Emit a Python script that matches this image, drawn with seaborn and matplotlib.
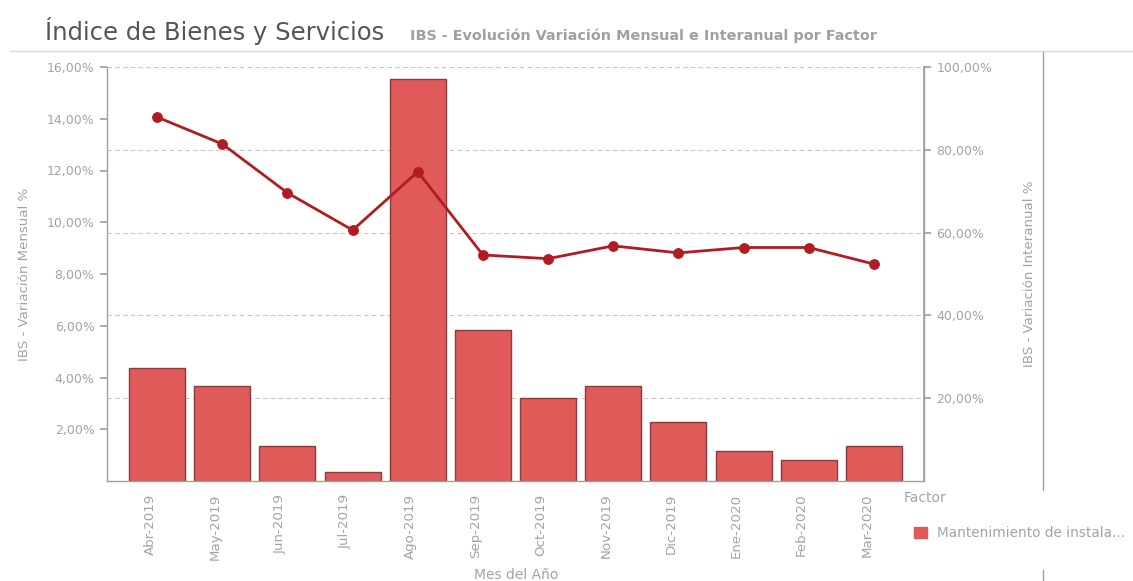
import numpy as np
import pandas as pd
import matplotlib
matplotlib.use("Agg")
import matplotlib.pyplot as plt
import matplotlib.transforms as mtransforms
from matplotlib.patches import Patch
from matplotlib.lines import Line2D
from matplotlib.ticker import FuncFormatter
import seaborn as sns

months = ["Abr-2019", "May-2019", "Jun-2019", "Jul-2019", "Ago-2019", "Sep-2019",
          "Oct-2019", "Nov-2019", "Dic-2019", "Ene-2020", "Feb-2020", "Mar-2020"]
mensual = [4.38, 3.68, 1.35, 0.33, 15.54, 5.84, 3.20, 3.67, 2.28, 1.17, 0.81, 1.35]
interanual = [87.9, 81.4, 69.6, 60.6, 74.7, 54.6, 53.7, 56.8, 55.1, 56.4, 56.4, 52.4]
factor = "Mantenimiento de instala..."
left_ticks = [2, 4, 6, 8, 10, 12, 14, 16]
right_ticks = [20, 40, 60, 80, 100]

sns.set_theme(style="white")
plt.rcParams['font.family'] = ['DejaVu Sans']

GRAY = "#a0a0a0"
TXT = "#a3a3a3"
BAR = "#e05a5a"
BAR_EDGE = "#8a3b3b"
LINE = "#b01c22"
FS_Y = 9.0
FS_X = 9.6

df = pd.DataFrame({"Mes": months, "Mensual": mensual, "Interanual": interanual,
                   "pos": np.arange(len(months))})

fig = plt.figure(figsize=(11.33, 5.81), dpi=100)
ax1 = fig.add_axes([107/1133, 1-481/581, (924-107)/1133, (481-67)/581])

# gridlines (aligned to right-axis ticks), behind bars
for v in right_ticks:
    ax1.axhline(v * 16 / 100, color="#c8c8c8", lw=0.8, ls=(0, (4, 3)), zorder=0)

sns.barplot(data=df, x="Mes", y="Mensual", color=BAR, edgecolor=BAR_EDGE,
            linewidth=1.0, width=0.86, saturation=1, ax=ax1, zorder=2)
ax1.set_xlim(-0.77, len(months) - 1 + 0.77)
ax1.set_ylim(0, 16)
ax1.set_yticks(left_ticks)
ax1.yaxis.set_major_formatter(FuncFormatter(lambda v, p: f"{v:.2f}%".replace(".", ",")))
ax1.set_xticks(range(len(months)))
ax1.set_xticklabels(months, rotation=90)
ax1.set_xticks(np.arange(-0.5, len(months), 1.0), minor=True)
ax1.tick_params(axis="x", which="major", length=0, labelsize=FS_X, labelcolor=TXT, pad=9)
ax1.tick_params(axis="x", which="minor", length=4, color="#dddddd", direction="out")
ax1.tick_params(axis="y", length=5, color=GRAY, labelsize=FS_Y, labelcolor=TXT, left=True,
                direction="out", pad=4)
# shift x labels slightly left, as in the reference
offset = mtransforms.ScaledTranslation(-7/100, 0, fig.dpi_scale_trans)
for lab in ax1.get_xticklabels():
    lab.set_transform(lab.get_transform() + offset)
ax1.set_xlabel("")
ax1.set_ylabel("IBS - Variación Mensual %", color=TXT, fontsize=FS_X, labelpad=11)
ax1.spines["top"].set_visible(False)
for s in ["left", "bottom", "right"]:
    ax1.spines[s].set_color(GRAY)
    ax1.spines[s].set_linewidth(1.0)

ax2 = ax1.twinx()
sns.lineplot(data=df, x="pos", y="Interanual", color=LINE, lw=2.0, marker="o",
             markersize=7, markeredgecolor=LINE, ax=ax2, zorder=5)
ax2.set_ylim(0, 100)
ax2.set_yticks(right_ticks)
ax2.yaxis.set_major_formatter(FuncFormatter(lambda v, p: f"{v:.2f}%".replace(".", ",")))
ax2.tick_params(axis="y", length=5, color=GRAY, labelsize=FS_Y, labelcolor=TXT, right=True,
                direction="out", pad=4)
ax2.set_ylabel("IBS - Variación Interanual %", color=TXT, fontsize=FS_X, labelpad=22)
ax2.set_xlabel("")
for s in ["top", "left", "bottom"]:
    ax2.spines[s].set_visible(False)
ax2.spines["right"].set_color(GRAY)

# x axis title
fig.text(516/1133, 1-575/581, "Mes del Año", fontsize=10, color=TXT, ha="center", va="center")

# Title and subtitle
fig.text(45/1133, 1-40/581, "Índice de Bienes y Servicios", fontsize=17.5, color="#555555", va="baseline")
fig.text(410/1133, 1-40/581, "IBS - Evolución Variación Mensual e Interanual por Factor",
         fontsize=10.4, color="#a0a0a0", va="baseline", fontweight="bold")

# Decorative frame lines
fig.add_artist(Line2D([10/1133, 1.0], [1-51/581, 1-51/581], color="#d8d8d8", lw=1.0))
fig.add_artist(Line2D([1043/1133, 1043/1133], [1-490/581, 1-52/581], color=GRAY, lw=1.0))
fig.add_artist(Line2D([1043/1133, 1043/1133], [0, 1-570/581], color=GRAY, lw=1.0))

# Legend
fig.text(904/1133, 1-502/581, "Factor", fontsize=10, color=TXT, va="baseline")
fig.legend(handles=[Patch(facecolor=BAR, edgecolor=BAR)], labels=[factor],
           loc="center left", bbox_to_anchor=(902/1133, 1-533/581), frameon=False,
           fontsize=9.8, labelcolor=TXT, handlelength=0.9, handleheight=0.9, handletextpad=0.8)

fig.savefig("out.png", dpi=100)
